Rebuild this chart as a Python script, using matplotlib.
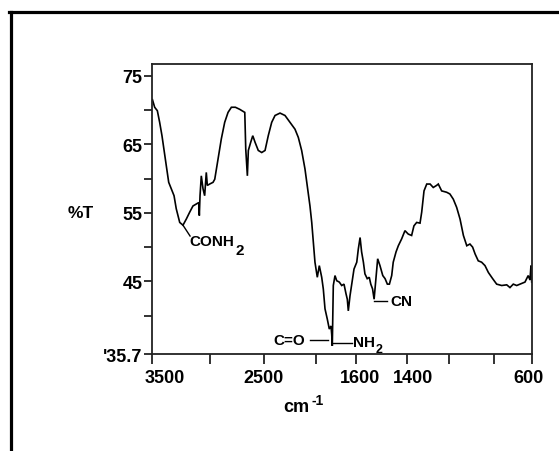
import numpy as np
import matplotlib
matplotlib.use("Agg")
import matplotlib.pyplot as plt
from matplotlib.transforms import ScaledTranslation

# ---- data: wavenumber (cm-1) and %T ----
wavenumber = [3496, 3477, 3454, 3434, 3414, 3397, 3377, 3356, 3334, 3310,
              3291, 3261, 3233, 3204, 3175, 3147, 3118, 3097, 3092, 3086,
              3075, 3060, 3046, 3032, 3023, 3003, 2972, 2956, 2926, 2895,
              2864, 2833, 2802, 2765, 2725, 2678, 2669, 2660, 2654, 2645,
              2623, 2604, 2583, 2553, 2521, 2490, 2459, 2426, 2394, 2346,
              2298, 2250, 2202, 2170, 2138, 2106, 2080, 2058, 2041, 2026,
              2010, 1987, 1967, 1943, 1927, 1910, 1887, 1867, 1850, 1843,
              1837, 1827, 1810, 1793, 1767, 1743, 1720, 1700, 1687, 1677,
              1660, 1643, 1620, 1597, 1591, 1584, 1578, 1571, 1565, 1556,
              1548, 1542, 1535, 1529, 1522, 1515, 1506, 1495, 1486, 1477,
              1469, 1460, 1454, 1443, 1434, 1421, 1408, 1394, 1378, 1367,
              1354, 1338, 1330, 1319, 1306, 1290, 1275, 1259, 1251, 1235,
              1211, 1196, 1181, 1166, 1151, 1136, 1121, 1107, 1095, 1084,
              1070, 1055, 1040, 1025, 1006, 972, 919, 866, 832, 797,
              761, 726, 674, 640, 621, 611, 603]
transmittance = [71.5, 70.4, 69.9, 68.2, 66.25, 64.3, 61.9, 59.45, 58.5, 57.5,
                 55.6, 53.6, 53.2, 54.1, 55.1, 56.0, 56.3, 56.5, 54.6, 57.5,
                 60.4, 58.5, 57.5, 60.9, 59.0, 59.2, 59.45, 59.9, 62.85, 65.8,
                 68.2, 69.65, 70.4, 70.4, 70.1, 69.65, 64.3, 61.9, 60.4, 64.1,
                 65.3, 66.25, 65.3, 64.1, 63.8, 64.1, 66.25, 68.2, 69.2, 69.55,
                 69.2, 68.2, 67.2, 66.0, 64.1, 61.4, 58.5, 56.0, 53.6, 50.7,
                 47.8, 45.6, 47.3, 45.6, 43.9, 41.0, 39.5, 38.05, 38.5, 37.3,
                 35.6, 44.4, 45.85, 45.1, 44.9, 44.4, 44.6, 43.2, 42.4, 40.7,
                 42.9, 44.6, 46.8, 47.8, 49.7, 51.4, 49.3, 47.8, 46.1, 45.4,
                 45.6, 44.6, 43.9, 42.4, 45.4, 48.3, 47.3, 45.85, 45.4, 44.6,
                 44.6, 45.85, 47.8, 49.3, 50.2, 51.2, 52.4, 51.9, 51.7, 53.1,
                 53.6, 53.5, 55.1, 58.2, 59.2, 59.2, 58.7, 59.0, 59.2, 58.2,
                 58.0, 57.75, 57.0, 55.8, 54.1, 51.7, 50.2, 50.45, 50.0, 49.0,
                 48.0, 47.8, 47.3, 46.3, 45.4, 44.6, 44.4, 44.5, 44.1, 44.6,
                 44.4, 44.6, 44.9, 45.85, 45.2, 47.3, 44.9]

x_ticks = [3500, 3000, 2500, 2000, 1600, 1400, 1200, 1000, 600]
x_labels = ["3500", "", "2500", "", "1600", "1400", "", "", "600"]
y_ticks = [75, 70, 65, 60, 55, 50, 45, 40]
y_labels = ["75", "", "65", "", "55", "", "45", ""]
y_bottom_label = "'35.7"

# ---- non-uniform x scale (breakpoints of the instrument's axis) ----
scale_wn = np.array([-1000, 600, 1000, 1200, 1400, 1600, 2000, 2500, 3000, 3500, 5000], float)
scale_pos = -np.array([700.0, 532, 494, 449, 407, 356, 316, 264, 210, 152, 23], float)

def fwd(w):
    return np.interp(w, scale_wn, scale_pos)

def inv(p):
    return np.interp(p, scale_pos, scale_wn)

FONT = "Liberation Sans"
W, H = 559, 452
fig = plt.figure(figsize=(W / 100, H / 100), dpi=100)
fig.patch.set_facecolor("white")

L, R, T, B = 152, 532, 65, 355
ax = fig.add_axes([L / W, 1 - B / H, (R - L) / W, (B - T) / H])
ax.set_xscale("function", functions=(fwd, inv))
ax.set_xlim(3500, 600)
ax.set_ylim(34.41, 76.71)

ax.plot(wavenumber, transmittance, color="black", lw=1.2, solid_joinstyle="miter")

for s in ax.spines.values():
    s.set_linewidth(1.3)
    s.set_color("#222222")

ax.set_xticks(x_ticks)
ax.set_xticklabels([])
ax.xaxis.set_minor_locator(matplotlib.ticker.NullLocator())
ax.tick_params(axis="x", direction="out", length=7.5, width=1.3, color="#222222")

ax.set_yticks(y_ticks + [34.41])
ax.set_yticklabels(y_labels + [y_bottom_label], fontfamily=FONT,
                   fontweight="bold", fontsize=13)
ax.yaxis.set_minor_locator(matplotlib.ticker.NullLocator())
ax.tick_params(axis="y", direction="out", length=6, width=1.3, pad=1,
               color="#222222")

# x tick labels, slightly shifted as in the reference
shift_px = {"3500": 13, "2500": 0, "1600": 4, "1400": 6, "600": -3}
for wv, lab in zip(x_ticks, x_labels):
    if not lab:
        continue
    tr = ax.get_xaxis_transform() + ScaledTranslation(shift_px[lab] / 100, -23.5 / 100,
                                                       fig.dpi_scale_trans)
    ax.text(wv, 0, lab, transform=tr, ha="center", va="center", fontfamily=FONT,
            fontweight="bold", fontsize=13, clip_on=False)

fig.text(283 / W, 1 - 407.5 / H, "cm", ha="left", va="center", fontfamily=FONT,
         fontweight="bold", fontsize=13)
fig.text(312 / W, 1 - 401 / H, "-1", ha="left", va="center", fontfamily=FONT,
         fontweight="bold", fontsize=10)
fig.text(80.5 / W, 1 - 213.5 / H, "%T", ha="center", va="center", fontfamily=FONT,
         fontweight="bold", fontsize=12.5)

# annotations
ann = dict(fontfamily=FONT, fontweight="bold", va="center", ha="left", clip_on=False)
ax.plot([3233, 3172], [53.2, 51.62], color="black", lw=1.0, clip_on=False)
ax.text(3175, 50.96, "CONH", fontsize=11, **ann)
ax.text(2768, 49.6, "2", fontsize=11, **ann)

ax.plot([2058, 1877], [36.4, 36.4], color="black", lw=1.0, clip_on=False)
ax.text(2411, 36.4, "C=O", fontsize=11, **ann)

ax.plot([1843, 1643], [35.97, 35.97], color="black", lw=1.0, clip_on=False)
ax.text(1627, 36.2, "NH", fontsize=11, **ann)
ax.text(1525, 35.1, "2", fontsize=9, **ann)

ax.plot([1529, 1477], [42.1, 42.1], color="black", lw=1.0, clip_on=False)
ax.text(1467, 42.07, "CN", fontsize=11, **ann)

# outer frame (left and top edges visible)
fig.add_artist(plt.Line2D([10.5 / W, 10.5 / W], [0, 1 - 12.5 / H], color="black",
                          lw=2.3, transform=fig.transFigure))
fig.add_artist(plt.Line2D([9 / W, 1], [1 - 12.5 / H, 1 - 12.5 / H], color="black",
                          lw=2.3, transform=fig.transFigure))

fig.savefig("out.png", dpi=100, facecolor="white")
